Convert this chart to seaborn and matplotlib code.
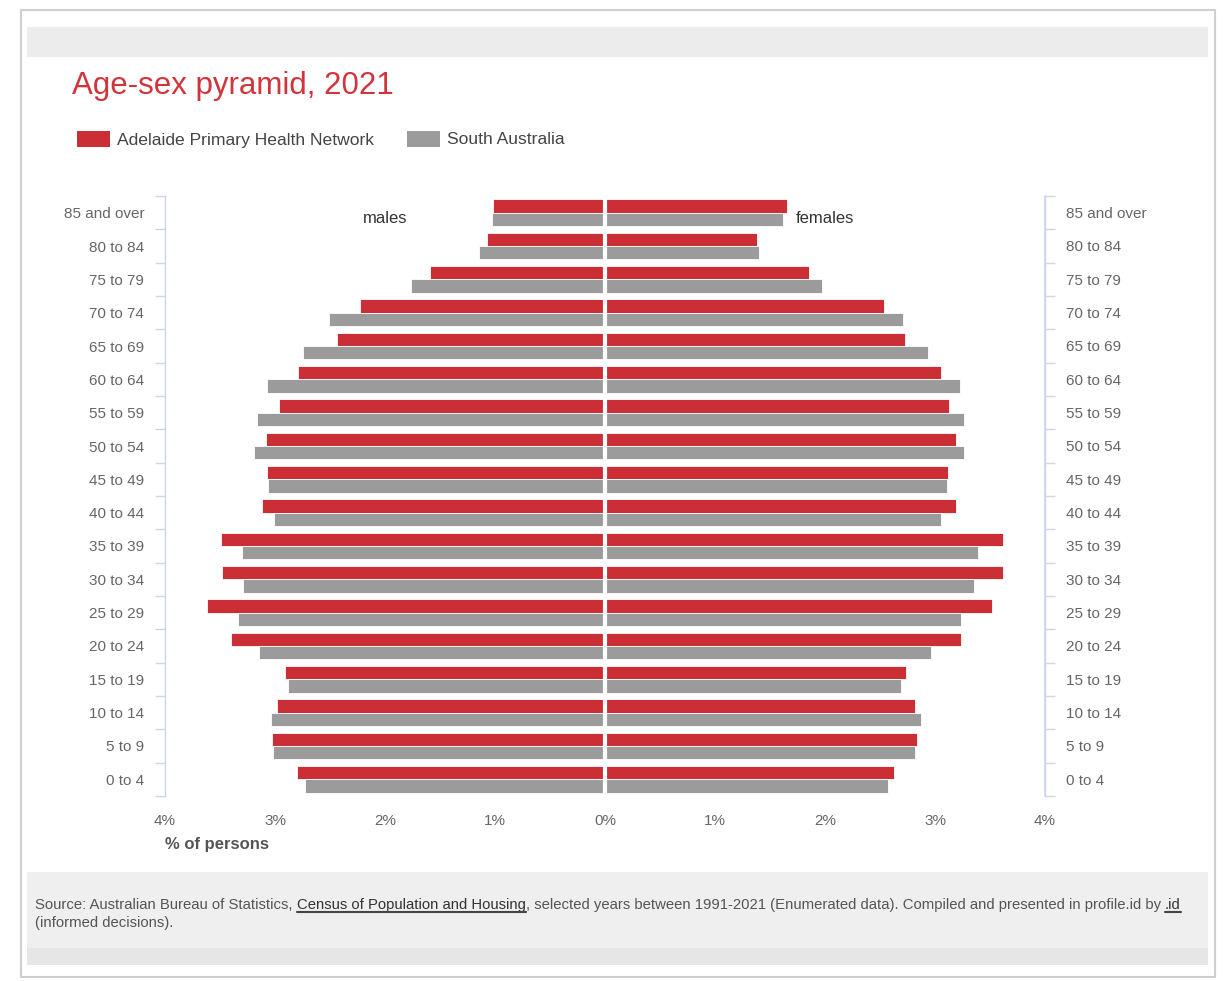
import numpy as np
import pandas as pd
import seaborn as sns
import matplotlib.pyplot as plt
from matplotlib.patches import Rectangle
from matplotlib.lines import Line2D

# Chart data (% of persons)
age_groups = ["85 and over", "80 to 84", "75 to 79", "70 to 74", "65 to 69", "60 to 64",
              "55 to 59", "50 to 54", "45 to 49", "40 to 44", "35 to 39", "30 to 34",
              "25 to 29", "20 to 24", "15 to 19", "10 to 14", "5 to 9", "0 to 4"]
areas = ["Adelaide Primary Health Network", "South Australia"]
adelaide_males = [1.02, 1.07, 1.59, 2.23, 2.44, 2.79, 2.96, 3.08, 3.07, 3.12,
                  3.49, 3.48, 3.62, 3.40, 2.91, 2.98, 3.03, 2.80]
sa_males = [1.03, 1.15, 1.76, 2.51, 2.75, 3.07, 3.16, 3.19, 3.06, 3.01,
            3.30, 3.29, 3.34, 3.15, 2.88, 3.04, 3.02, 2.73]
adelaide_females = [1.65, 1.38, 1.85, 2.54, 2.73, 3.05, 3.13, 3.19, 3.12, 3.19,
                    3.62, 3.62, 3.52, 3.24, 2.74, 2.82, 2.84, 2.63]
sa_females = [1.62, 1.40, 1.97, 2.71, 2.94, 3.23, 3.26, 3.26, 3.11, 3.05,
              3.39, 3.35, 3.24, 2.96, 2.69, 2.87, 2.82, 2.57]
x_ticks = [-4, -3, -2, -1, 0, 1, 2, 3, 4]

RED = "#cc2e35"
GREY = "#9b9b9b"
AXIS_BLUE = "#ccd6eb"
palette = {areas[0]: RED, areas[1]: GREY}

sns.set_theme(style="white")
plt.rcParams["font.family"] = ["Liberation Sans", "DejaVu Sans"]

W, H = 1223, 981


def fx(x):
    return x / W


def fy(y):
    return 1 - y / H


def long_table(red_vals, grey_vals, sign):
    rows = []
    for age, r, g in zip(age_groups, red_vals, grey_vals):
        rows.append({"age": age, "area": areas[0], "value": sign * r})
        rows.append({"age": age, "area": areas[1], "value": sign * g})
    return pd.DataFrame(rows)


def band(x0, y0, x1, y1, face, edge="none", lw=0, z=-10):
    fig.patches.append(Rectangle((fx(x0), fy(y1)), fx(x1) - fx(x0), fy(y0) - fy(y1),
                                 transform=fig.transFigure, facecolor=face,
                                 edgecolor=edge, lw=lw, zorder=z))


males = long_table(adelaide_males, sa_males, -1)
females = long_table(adelaide_females, sa_females, 1)

fig = plt.figure(figsize=(W / 100, H / 100), dpi=100)

# card frame and grey bands
band(21, 10, 1215, 977, "white", edge="#cfcfcf", lw=1.5, z=-12)
band(27, 27, 1208, 57, "#ececec")
band(27, 872, 1208, 948, "#efefef")
band(27, 948, 1208, 965, "#e6e6e6")

ax = fig.add_axes([fx(165), fy(796), fx(1045) - fx(165), fy(196) - fy(796)])
ax.patch.set_alpha(0)

for part in (males, females):
    sns.barplot(data=part, y="age", x="value", hue="area", order=age_groups,
                hue_order=areas, palette=palette, orient="h", saturation=1,
                edgecolor="white", linewidth=0.6, legend=False, ax=ax)

ax.axvline(0, color="white", lw=3, zorder=5)
ax.set_xlim(-4, 4)
ax.set_ylim(len(age_groups) - 0.5, -0.5)
ax.set_xlabel("")
ax.set_ylabel("")
ax.set_xticks(x_ticks)
ax.set_xticklabels([f"{abs(t)}%" for t in x_ticks])
ax.tick_params(axis="x", length=0, pad=13, labelsize=11, labelcolor="#666666")

for spine in ["top", "bottom"]:
    ax.spines[spine].set_visible(False)
for spine in ["left", "right"]:
    ax.spines[spine].set_color(AXIS_BLUE)
    ax.spines[spine].set_linewidth(1)

bounds = np.arange(-0.5, len(age_groups), 1)
ax.set_yticks(range(len(age_groups)))
ax.set_yticklabels(age_groups)
ax.set_yticks(bounds, minor=True)
ax.tick_params(axis="y", which="major", length=0, pad=15, labelsize=11, labelcolor="#666666")
ax.tick_params(axis="y", which="minor", left=True, length=7, width=1, color=AXIS_BLUE)

ax2 = ax.twinx()
ax2.set_ylim(ax.get_ylim())
ax2.set_yticks(range(len(age_groups)))
ax2.set_yticklabels(age_groups)
ax2.set_yticks(bounds, minor=True)
ax2.tick_params(axis="y", which="major", length=0, pad=15, labelsize=11, labelcolor="#666666")
ax2.tick_params(axis="y", which="minor", right=True, length=7, width=1, color=AXIS_BLUE)
for spine in ["top", "bottom", "left"]:
    ax2.spines[spine].set_visible(False)
ax2.spines["right"].set_color(AXIS_BLUE)

ax.text(-2.0, 0.18, "males", ha="center", va="center", fontsize=12, color="#333333")
ax.text(2.0, 0.18, "females", ha="center", va="center", fontsize=12, color="#333333")

# title and legend
fig.text(fx(72), fy(86), "Age-sex pyramid, 2021", fontsize=22.5, color="#d2343c", va="center")
legend_items = [(77, RED, areas[0]), (407, GREY, areas[1])]
for x0, col, label in legend_items:
    band(x0, 131, x0 + 33, 147, col, z=2)
    fig.text(fx(x0 + 40), fy(140), label, fontsize=12.6, color="#444444", va="center")

fig.text(fx(165), fy(844), "% of persons", fontsize=12, fontweight="bold",
         color="#555555", va="center")

# footer source note, pieces chained one after another
fs = 10.7
foot = dict(fontsize=fs, va="bottom", ha="left", annotation_clip=False)
t1 = fig.text(fx(35), fy(912), "Source: Australian Bureau of Statistics, ",
              fontsize=fs, color="#555555", va="bottom")
t2 = ax.annotate("Census of Population and Housing", xy=(1, 0), xycoords=t1,
                 color="#333333", **foot)
t3 = ax.annotate(", selected years between 1991-2021 (Enumerated data). Compiled and "
                 "presented in profile.id by ", xy=(1, 0), xycoords=t2,
                 color="#555555", **foot)
t4 = ax.annotate(".id", xy=(1, 0), xycoords=t3, color="#333333", **foot)
fig.text(fx(35), fy(923), "(informed decisions).", fontsize=fs, color="#555555",
         va="center")

fig.canvas.draw()
for t in (t2, t4):
    bb = t.get_window_extent()
    y = bb.y0
    fig.lines.append(Line2D([bb.x0 / W, bb.x1 / W], [y / H, y / H],
                            transform=fig.transFigure, color="#444444", lw=1.5))

fig.savefig("out.png", dpi=100, facecolor="white")
